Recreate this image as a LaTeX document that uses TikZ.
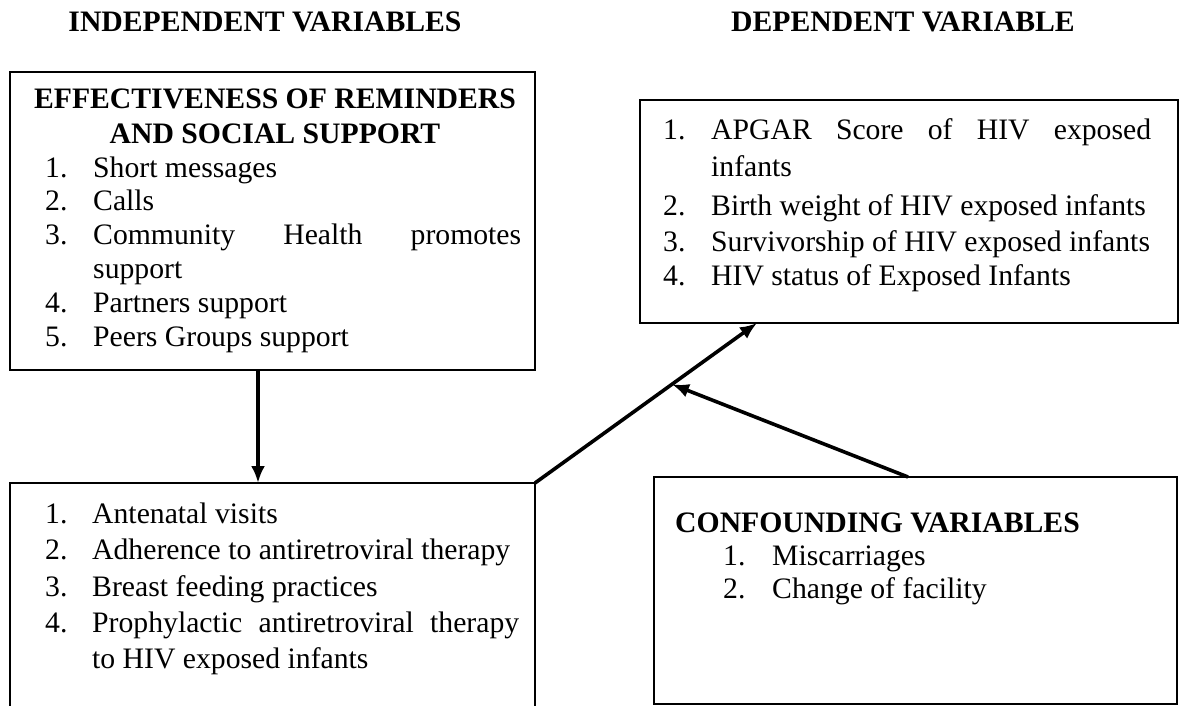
\documentclass[tikz,border=0pt]{standalone}
\usepackage{fontspec}
\setmainfont{Liberation Serif}
\usetikzlibrary{arrows.meta,calc}
\newcommand\bodyfont{\fontsize{29.7}{34}\selectfont}
\begin{document}
\begin{tikzpicture}[x=1pt,y=-1pt,
  box/.style={draw, line width=1.8pt, inner sep=0pt, outer sep=0pt},
  arr/.style={line width=3.6pt, -{Latex[length=17pt,width=14pt]}},
  txt/.style={anchor=base west, inner sep=0pt, font=\bodyfont},
  num/.style={anchor=base west, inner sep=0pt, font=\bodyfont},
  hdr/.style={anchor=base, inner sep=0pt, font=\bodyfont\bfseries}]
\clip (0,0) rectangle (1186,706);
\fill[white] (0,0) rectangle (1186,706);

% headers
\node[hdr] (h1) at (265,32) {INDEPENDENT VARIABLES};
\node[hdr] (h2) at (903,32) {DEPENDENT VARIABLE};

% boxes
\node[box, anchor=north west, minimum width=525pt, minimum height=298pt] (b1) at (10,72) {};
\node[box, anchor=north west, minimum width=538pt, minimum height=223pt] (b2) at (640,100) {};
\node[box, anchor=north west, minimum width=525pt, minimum height=290pt] (b3) at (10,483) {};
\node[box, anchor=north west, minimum width=523pt, minimum height=227pt] (b4) at (654,477) {};

% box 1 text
\node[hdr] (t1a) at (275,109) {EFFECTIVENESS OF REMINDERS};
\node[hdr] (t1b) at (275,143) {AND SOCIAL SUPPORT};
\node[num] (n11) at (45,177) {1.};
\node[txt] (i11) at (93,177) {Short messages};
\node[num] (n12) at (45,210.5) {2.};
\node[txt] (i12) at (93,210.5) {Calls};
\node[num] (n13) at (45,244) {3.};
\node[txt] (i13) at (93,244) {\makebox[428pt][s]{Community Health promotes}};
\node[txt] (i13b) at (93,278) {support};
\node[num] (n14) at (45,312) {4.};
\node[txt] (i14) at (93,312) {Partners support};
\node[num] (n15) at (45,346) {5.};
\node[txt] (i15) at (93,346) {Peers Groups support};

% box 2 text
\node[num] (n21) at (663,140) {1.};
\node[txt] (i21) at (711,140) {\makebox[440pt][s]{APGAR Score of HIV exposed}};
\node[txt] (i21b) at (711,176) {infants};
\node[num] (n22) at (663,215) {2.};
\node[txt] (i22) at (711,215) {Birth weight of HIV exposed infants};
\node[num] (n23) at (663,251) {3.};
\node[txt] (i23) at (711,251) {Survivorship of HIV exposed infants};
\node[num] (n24) at (663,285) {4.};
\node[txt] (i24) at (711,285) {HIV status of Exposed Infants};

% box 3 text
\node[num] (n31) at (45,523) {1.};
\node[txt] (i31) at (92,523) {Antenatal visits};
\node[num] (n32) at (45,559) {2.};
\node[txt] (i32) at (92,559) {Adherence to antiretroviral therapy};
\node[num] (n33) at (45,596) {3.};
\node[txt] (i33) at (92,596) {Breast feeding practices};
\node[num] (n34) at (45,632) {4.};
\node[txt] (i34) at (92,632) {\makebox[427pt][s]{Prophylactic antiretroviral therapy}};
\node[txt] (i34b) at (92,668) {to HIV exposed infants};

% box 4 text
\node[txt, font=\bodyfont\bfseries] (t4) at (675,532) {CONFOUNDING VARIABLES};
\node[num] (n41) at (723,565) {1.};
\node[txt] (i41) at (772,565) {Miscarriages};
\node[num] (n42) at (723,598) {2.};
\node[txt] (i42) at (772,598) {Change of facility};

% connectors
\coordinate (a1end) at (757,323);
\coordinate (a2start) at (908,477);
\coordinate (meet) at ($(b3.north east)!0.617!(a1end)$);
\draw[arr] ([xshift=-14.5pt]b1.south) -- ([xshift=-14.5pt]b3.north);
\draw[arr] (b3.north east) -- (a1end);
\draw[arr] (a2start) -- (meet);
\end{tikzpicture}
\end{document}
